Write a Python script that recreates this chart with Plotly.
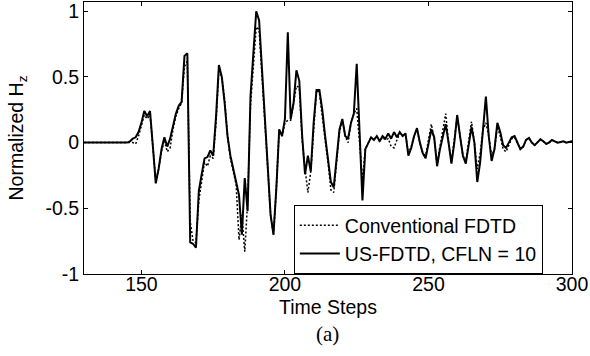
import plotly.graph_objects as go

time_steps = list(range(130, 301))

us_fdtd = [
    0, 0, 0, 0, 0, 0, 0, 0, 0, 0, 0, 0, 0, 0, 0,          # 130-144
    0.0, 0.01, 0.03, 0.04, 0.08,                            # 145-149
    0.15, 0.24, 0.20, 0.24, -0.03, -0.31, -0.20, -0.05, 0.04, -0.03,   # 150-159
    0.03, 0.12, 0.22, 0.28, 0.31, 0.66, 0.68, -0.76, -0.77, -0.80,     # 160-169
    -0.37, -0.24, -0.12, -0.11, -0.06, -0.10, 0.20, 0.59, 0.50, 0.30,  # 170-179
    0.05, -0.10, -0.20, -0.30, -0.40, -0.70, -0.27, -0.52, 0.35, 0.68, # 180-189
    1.00, 0.93, 0.55, 0.15, -0.25, -0.55, -0.70, -0.35, 0.10, 0.05,    # 190-199
    0.18, 0.84, 0.18, 0.30, 0.55, 0.47, 0.05, -0.24, -0.10, -0.22,     # 200-209
    0.15, 0.40, 0.40, 0.25, 0.05, -0.12, -0.30, -0.34, -0.10, 0.10,    # 210-219
    0.18, 0.05, 0.03, 0.15, 0.22, 0.60, 0.08, -0.44, -0.05, 0.00,      # 220-229
    0.04, 0.02, 0.05, 0.01, 0.05, 0.03, 0.07, 0.03, 0.08, 0.04,        # 230-239
    0.08, 0.05, 0.07, -0.10, -0.04, 0.05, 0.11, 0.00, -0.08, -0.12,    # 240-249
    0.00, 0.10, 0.04, -0.18, -0.05, 0.05, 0.14, 0.00, -0.16, 0.00,     # 250-259
    0.21, 0.05, -0.10, -0.16, 0.00, 0.12, 0.00, -0.30, -0.15, 0.12,    # 260-269
    0.35, 0.05, -0.14, -0.05, 0.15, 0.08, -0.02, -0.04, 0.00, 0.04,    # 270-279
    0.05, 0.00, -0.05, -0.03, 0.02, 0.035, 0.00, -0.02, 0.00, 0.025,   # 280-289
    0.01, -0.01, 0.00, 0.02, 0.01, 0.00, 0.005, 0.01, 0.00, 0.005,     # 290-299
    0.01,                                                   # 300
]

conventional = [
    0, 0, 0, 0, 0, 0, 0, 0, 0, 0, 0, 0, 0, 0, 0,          # 130-144
    0.0, 0.0, 0.0, -0.01, 0.05,                             # 145-149
    0.13, 0.21, 0.18, 0.21, -0.03, -0.29, -0.20, -0.07, 0.02, -0.07,   # 150-159
    -0.04, 0.10, 0.20, 0.26, 0.30, 0.58, 0.62, -0.60, -0.75, -0.76,    # 160-169
    -0.44, -0.28, -0.15, -0.18, -0.10, -0.12, 0.15, 0.56, 0.50, 0.32,  # 170-179
    0.05, -0.12, -0.22, -0.32, -0.74, -0.55, -0.83, -0.45, 0.28, 0.60, # 180-189
    0.88, 0.86, 0.50, 0.12, -0.28, -0.55, -0.70, -0.35, 0.10, 0.05,    # 190-199
    0.15, 0.17, 0.17, 0.30, 0.43, 0.42, 0.02, -0.20, -0.38, -0.22,     # 200-209
    0.12, 0.40, 0.38, 0.22, 0.02, -0.15, -0.36, -0.38, -0.12, 0.08,    # 210-219
    0.17, 0.05, 0.00, 0.15, 0.22, 0.26, 0.00, -0.28, -0.05, 0.00,      # 220-229
    0.04, 0.02, 0.05, 0.01, 0.04, 0.02, 0.03, -0.03, -0.04, 0.02,      # 230-239
    0.07, 0.05, 0.07, -0.08, -0.03, 0.05, 0.10, 0.00, -0.08, -0.10,    # 240-249
    0.03, 0.14, 0.03, -0.16, -0.03, 0.10, 0.22, 0.00, -0.15, 0.02,     # 250-259
    0.20, 0.05, -0.10, -0.14, 0.02, 0.16, 0.00, -0.20, -0.08, 0.10,    # 260-269
    0.15, 0.05, -0.10, -0.05, 0.12, 0.05, -0.05, -0.07, -0.02, 0.03,   # 270-279
    0.04, 0.00, -0.05, -0.03, 0.02, 0.035, 0.00, -0.02, 0.00, 0.025,   # 280-289
    0.01, -0.01, 0.00, 0.02, 0.01, 0.00, 0.005, 0.01, 0.00, 0.005,     # 290-299
    0.01,                                                   # 300
]

x_tickvals = [150, 200, 250, 300]
y_tickvals = [-1, -0.5, 0, 0.5, 1]
y_ticktext = ["-1", "-0.5", "0", "0.5", "1"]

font_main = "Arial, Liberation Sans, sans-serif"
FS = 19.5

fig = go.Figure()
fig.add_trace(go.Scatter(
    x=time_steps, y=conventional, mode="lines", name="Conventional FDTD",
    line=dict(color="black", width=1.5, dash="2px,2px"),
))
fig.add_trace(go.Scatter(
    x=time_steps, y=us_fdtd, mode="lines", name="US-FDTD, CFLN = 10",
    line=dict(color="black", width=2),
))

axis_common = dict(
    showgrid=False, zeroline=False, showline=True, linecolor="black", linewidth=1,
    mirror="ticks", ticks="inside", ticklen=4, tickcolor="black", tickwidth=1,
    automargin=False,
    tickfont=dict(family=font_main, size=FS, color="black"),
)

fig.update_layout(
    width=590, height=356,
    margin=dict(l=84, r=18, t=2, b=82),
    paper_bgcolor="white", plot_bgcolor="white",
    font=dict(family=font_main, size=FS, color="black"),
    xaxis=dict(range=[130, 300], tickvals=x_tickvals, ticklabelstandoff=-7,
               title=dict(text="Time Steps", font=dict(family=font_main, size=FS), standoff=5),
               **axis_common),
    yaxis=dict(range=[-1, 1.07], tickvals=y_tickvals, ticktext=y_ticktext,
               title=dict(text="Normalized H<sub>z</sub>", font=dict(family=font_main, size=FS), standoff=16),
               **axis_common),
    legend=dict(x=0.43, y=0.2537, xanchor="left", yanchor="top",
                bgcolor="white", bordercolor="black", borderwidth=1,
                font=dict(family=font_main, size=FS, color="black"),
                tracegroupgap=0, itemwidth=40),
    showlegend=True,
    annotations=[dict(text="(a)", xref="paper", yref="paper", x=0.498, y=-0.22,
                      xanchor="center", yanchor="middle", showarrow=False,
                      font=dict(family="Times New Roman, Liberation Serif, serif", size=21, color="black"))],
)

fig.write_html("out.html", config={"displayModeBar": False},
               post_script="document.body.style.margin='0';")
